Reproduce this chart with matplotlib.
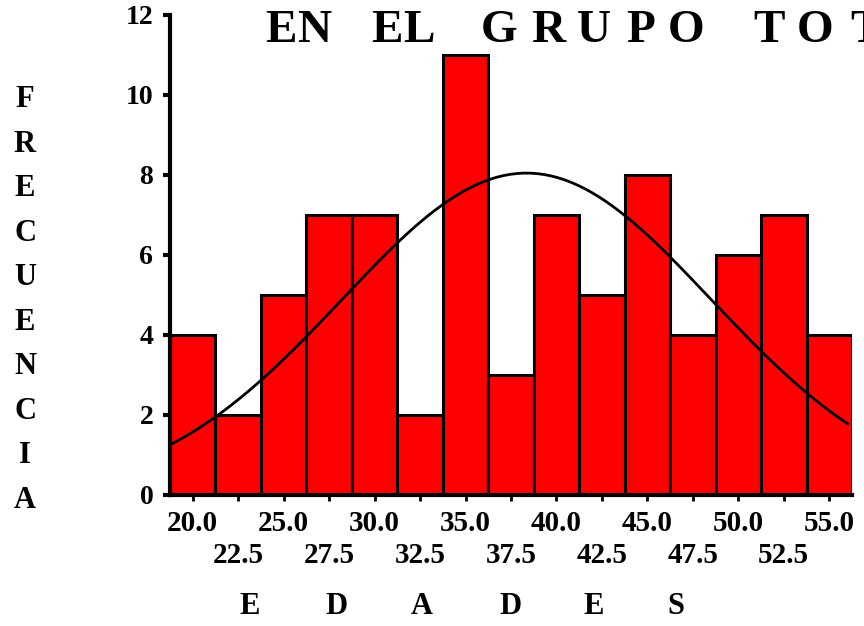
import numpy as np
import matplotlib.pyplot as plt

# grupos de edad (marca de clase) y frecuencias
edades = [20.0, 22.5, 25.0, 27.5, 30.0, 32.5, 35.0, 37.5, 40.0, 42.5, 45.0, 47.5, 50.0, 52.5, 55.0]
frecuencias = [4, 2, 5, 7, 7, 2, 11, 3, 7, 5, 8, 4, 6, 7, 4]
ancho = 2.5
titulo = "ENELGRUPOTOTAL"
titulo_x = [281, 314, 387, 419, 499, 548, 594, 641, 686, 769, 815, 866, 912, 955]
eje_y = "FRECUENCIA"
eje_x = "EDADES"
eje_x_pos = [250, 336, 422, 510, 594, 676]

plt.rcParams['font.family'] = ['Liberation Serif', 'DejaVu Serif']
plt.rcParams['font.weight'] = 'bold'

fig = plt.figure(figsize=(8.64, 6.26), dpi=100)
ax = fig.add_axes([170/864, 1 - 495/626, 682/864, 480/626])

ax.bar(edades, frecuencias, width=ancho, color='#ff0000', edgecolor='black', linewidth=2.2, zorder=2)

# curva normal ajustada a los datos agrupados
x = np.array(edades)
f = np.array(frecuencias)
n = f.sum()
media = (x * f).sum() / n
sd = np.sqrt((f * (x - media) ** 2).sum() / (n - 1))
xs = np.linspace(18.75, 56.0, 200)
ys = n * ancho / (sd * np.sqrt(2 * np.pi)) * np.exp(-0.5 * ((xs - media) / sd) ** 2)
ax.plot(xs, ys, color='black', linewidth=2, zorder=3)

ax.set_xlim(18.75, 56.25)
ax.set_ylim(0, 12)
for s in ['top', 'right']:
    ax.spines[s].set_visible(False)
for s in ['left', 'bottom']:
    ax.spines[s].set_linewidth(3)
    ax.spines[s].set_zorder(4)

ax.set_yticks(range(0, 13, 2))
ax.set_yticklabels([str(v) for v in range(0, 13, 2)], fontsize=20, fontweight='bold')
ax.tick_params(axis='y', direction='out', length=5, width=3, pad=7)

# etiquetas del eje x en dos filas alternas
fila1 = edades[0::2]
fila2 = edades[1::2]
ax.set_xticks(fila1)
ax.set_xticklabels([f"{e:.1f}" for e in fila1], fontsize=21, fontweight='bold')
ax.set_xticks(fila2, minor=True)
ax.set_xticklabels([f"{e:.1f}" for e in fila2], minor=True, fontsize=21, fontweight='bold')
ax.tick_params(axis='x', which='major', direction='out', length=4, width=2, pad=7)
ax.tick_params(axis='x', which='minor', direction='out', length=4, width=2, pad=30)

# titulo letra a letra
for c, px in zip(titulo, titulo_x):
    fig.text(px / 864, 1 - 31/626, c, fontsize=34, fontweight='bold', ha='center', va='center')

fig.text(25/864, 1 - 300/626, "\n".join(eje_y), fontsize=22, fontweight='bold',
         ha='center', va='center', multialignment='center', linespacing=1.705)

for c, px in zip(eje_x, eje_x_pos):
    fig.text(px / 864, 1 - 606/626, c, fontsize=22, fontweight='bold', ha='center', va='center')

fig.savefig('out.png', dpi=100)
